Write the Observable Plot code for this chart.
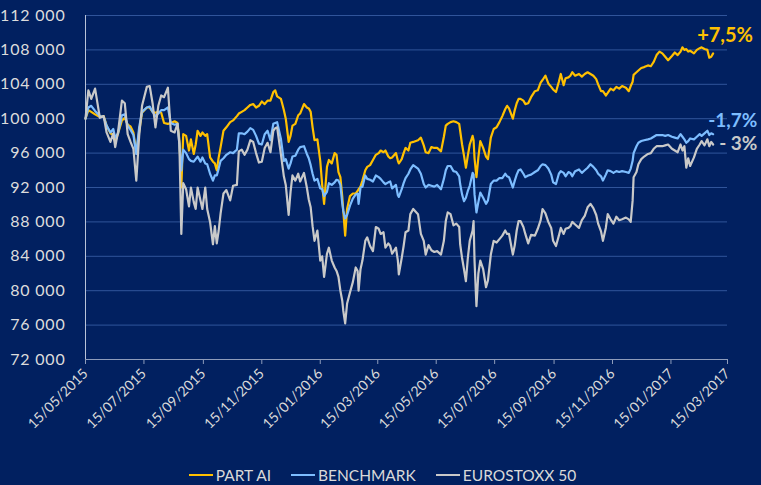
<!DOCTYPE html>
<html>
<head>
<meta charset="utf-8">
<script src="https://cdn.jsdelivr.net/npm/d3@7"></script>
<script src="https://cdn.jsdelivr.net/npm/@observablehq/plot@0.6"></script>
<style>
  html, body { margin: 0; padding: 0; background: #012060; }
  #chart { width: 761px; height: 485px; overflow: hidden; background: #012060; }
  #chart svg g[aria-label="y-axis tick label"] text { letter-spacing: 0.8px; }
  #legend { display: flex; justify-content: center; align-items: center; height: 20px; margin-top: 10px; padding-left: 4px;
            font-family: Lato, "Open Sans", sans-serif; font-size: 15.5px; color: #d9d9d9; }
  .item { display: flex; align-items: center; margin: 0 10px; }
  .sw { width: 24px; height: 2.5px; margin-right: 3px; }
</style>
</head>
<body>
<div id="chart"></div>
<script>
const seriesNames = ["PART AI", "BENCHMARK", "EUROSTOXX 50"];
const seriesColors = ["#ffc000", "#7dbdff", "#c9c9c9"];
const endLabels = ["+7,5%", "-1,7%", "- 3%"];

const xTickLabels = ["2015-05-15","2015-07-15","2015-09-15","2015-11-15","2016-01-15","2016-03-15",
  "2016-05-15","2016-07-15","2016-09-15","2016-11-15","2017-01-15","2017-03-15"];
const yTicks = [72000, 76000, 80000, 84000, 88000, 92000, 96000, 100000, 104000, 108000, 112000];

const dates = [
"2015-05-15","2015-05-18","2015-05-21","2015-05-25","2015-05-30","2015-06-03","2015-06-06","2015-06-10","2015-06-13","2015-06-15",
"2015-06-18","2015-06-22","2015-06-25","2015-06-28","2015-07-01","2015-07-04","2015-07-07","2015-07-10","2015-07-13","2015-07-18",
"2015-07-21","2015-07-24","2015-07-27","2015-07-30","2015-08-02","2015-08-05","2015-08-09","2015-08-12","2015-08-16","2015-08-19",
"2015-08-21","2015-08-23","2015-08-25","2015-08-28","2015-08-31","2015-09-02","2015-09-05","2015-09-07","2015-09-09","2015-09-12",
"2015-09-14","2015-09-17","2015-09-19","2015-09-22","2015-09-25","2015-09-27","2015-09-29","2015-10-01","2015-10-03","2015-10-06",
"2015-10-09","2015-10-13","2015-10-16","2015-10-20","2015-10-22","2015-10-25","2015-10-28","2015-10-31","2015-11-03","2015-11-06",
"2015-11-09","2015-11-12","2015-11-15","2015-11-18","2015-11-21","2015-11-24","2015-11-27","2015-11-29","2015-12-01","2015-12-05",
"2015-12-08","2015-12-10","2015-12-13","2015-12-15","2015-12-17","2015-12-20","2015-12-23","2015-12-25","2015-12-29","2016-01-01",
"2016-01-03","2016-01-05","2016-01-07","2016-01-09","2016-01-12","2016-01-15","2016-01-17","2016-01-19","2016-01-22","2016-01-24",
"2016-01-27","2016-01-30","2016-02-01","2016-02-03","2016-02-05","2016-02-07","2016-02-08","2016-02-10","2016-02-12","2016-02-15",
"2016-02-18","2016-02-21","2016-02-23","2016-02-24","2016-02-26","2016-02-28","2016-03-02","2016-03-04","2016-03-07","2016-03-10",
"2016-03-13","2016-03-16","2016-03-18","2016-03-21","2016-03-23","2016-03-26","2016-03-28","2016-03-30","2016-04-03","2016-04-05",
"2016-04-06","2016-04-09","2016-04-11","2016-04-13","2016-04-16","2016-04-18","2016-04-21","2016-04-26","2016-04-29","2016-05-02",
"2016-05-04","2016-05-07","2016-05-10","2016-05-13","2016-05-16","2016-05-20","2016-05-23","2016-05-25","2016-05-27","2016-05-30",
"2016-06-02","2016-06-05","2016-06-08","2016-06-09","2016-06-11","2016-06-13","2016-06-15","2016-06-17","2016-06-19","2016-06-22",
"2016-06-23","2016-06-24","2016-06-26","2016-06-28","2016-06-30","2016-07-03","2016-07-06","2016-07-08","2016-07-11","2016-07-14",
"2016-07-17","2016-07-20","2016-07-23","2016-07-26","2016-07-28","2016-07-30","2016-08-03","2016-08-05","2016-08-07","2016-08-09",
"2016-08-11","2016-08-14","2016-08-16","2016-08-19","2016-08-22","2016-08-26","2016-08-29","2016-09-01","2016-09-03","2016-09-06",
"2016-09-09","2016-09-12","2016-09-14","2016-09-17","2016-09-20","2016-09-22","2016-09-25","2016-09-27","2016-09-30","2016-10-02",
"2016-10-04","2016-10-07","2016-10-11","2016-10-14","2016-10-17","2016-10-20","2016-10-23","2016-10-26","2016-10-29","2016-10-31",
"2016-11-03","2016-11-05","2016-11-08","2016-11-10","2016-11-13","2016-11-16","2016-11-19","2016-11-22","2016-11-25","2016-11-29",
"2016-12-02","2016-12-04","2016-12-06","2016-12-07","2016-12-10","2016-12-12","2016-12-15","2016-12-18","2016-12-22","2016-12-25",
"2016-12-28","2016-12-31","2017-01-03","2017-01-06","2017-01-09","2017-01-12","2017-01-16","2017-01-19","2017-01-22","2017-01-25",
"2017-01-27","2017-01-29","2017-01-31","2017-02-02","2017-02-04","2017-02-08","2017-02-11","2017-02-14","2017-02-16","2017-02-19",
"2017-02-22","2017-02-24","2017-02-26","2017-02-28"];

const partAI = [
100000,101000,100800,100500,100200,100300,99200,98300,98100,97300,
98300,99800,100100,99300,99100,98400,96000,98500,100700,101300,
101300,100800,100700,100800,100700,99500,99400,99500,99700,99500,
97500,92000,98200,98000,96300,97600,95900,97000,98600,98000,
98400,98000,98200,95500,95000,94800,94000,95500,96700,98600,
99000,99600,99800,100300,100600,100800,101000,101300,101600,101700,
101300,101500,102000,101700,102100,102100,103100,103300,102600,102300,
101000,100000,97300,98000,99200,99400,100400,100600,101700,101300,
101200,100800,99000,97500,97600,95100,92300,90100,94400,95200,
94800,96000,95800,93800,93200,90900,89300,86400,89500,91000,
91300,91300,91600,91800,92100,92800,94000,94400,94600,95200,
95800,96000,96300,96100,96300,95600,95400,95500,96000,95100,
94800,95300,96000,96600,96300,97200,97300,97500,97800,96900,
96100,96000,96700,96600,96600,96200,97900,99200,99400,99600,
99700,99600,99400,98600,97000,95700,94300,95700,97000,98000,
97500,95400,93200,95500,97400,96600,95600,95300,97800,98800,
99000,99600,100300,101100,101500,101200,100000,101000,101800,102300,
102300,102100,101700,101800,102500,103200,103300,104200,104500,105000,
104100,103700,103400,103100,104300,105200,103900,104700,104800,105000,
105400,105000,105200,104900,105200,105400,105200,105000,104600,104000,
103200,103200,102700,103000,103500,103300,103700,103500,103800,103600,
103200,103800,104300,105100,105400,105600,105900,106000,106200,106100,
106600,107400,107800,107600,107200,106800,107300,107700,107400,107800,
108300,108000,108100,107800,107900,107600,108000,108200,108300,108100,
108000,107100,107200,107600];

const benchmark = [
100000,101300,101500,100900,100300,100200,99200,98400,98800,97800,
98300,100400,100500,99200,98700,98100,95900,99000,100800,101300,
101400,100800,100300,100600,101000,101000,101300,99500,99300,99400,
97000,94000,96400,96000,95300,95100,95000,95300,95600,95000,
95500,94800,94700,93600,92800,93400,93400,94200,95100,95400,
95800,96100,96000,96400,98300,98300,98200,98500,98900,98700,
98000,97100,97000,98200,98600,97500,99400,99500,99600,97600,
95100,95300,94200,94800,95600,95700,96400,96700,96800,95900,
95400,94600,93600,92800,93000,91900,91800,91000,91500,92500,
92300,92600,92900,92800,92300,90100,89300,88400,88800,89900,
90700,91200,91300,90100,92000,92100,93400,93000,92900,92700,
93400,93200,93000,92600,92400,92600,92700,91900,92300,91100,
90900,91800,92500,93100,93600,94100,94600,94200,93600,92400,
92000,92300,92200,92100,92300,91800,93000,94000,94500,94500,
93900,93800,93300,92400,91200,90400,90800,91600,92200,93700,
93500,91200,89100,90300,91400,90800,90100,90500,92400,92800,
92800,93100,93100,93600,93300,93200,92000,92800,93500,94000,
94100,93600,93200,93400,93500,93800,94000,94500,94700,94600,
94200,93500,92600,92400,93600,93900,93700,93300,93800,93700,
93300,93900,94100,93700,94000,94300,94700,94400,94000,93600,
93300,92800,93500,94000,93900,93700,93900,93800,93900,93800,
93700,94200,95100,96000,96800,97200,97400,97500,97600,97700,
97900,98100,98100,98100,98000,98100,97900,97800,97700,98200,
97900,97600,97200,97400,97700,97600,97900,98200,98000,98300,
98600,98100,98300,98200];

const eurostoxx = [
100000,103300,102300,103500,100100,100300,98400,97300,98300,96700,
98500,102100,101800,98200,97300,96500,92800,98000,101500,103700,
103800,101800,99000,101500,102700,102500,103600,98600,98400,99400,
97000,86600,92500,91800,89800,92000,90300,89500,92000,90500,
89500,92000,89500,88000,85400,87500,85500,87000,89000,91300,
91700,90500,92200,92300,96200,96400,95800,96400,97500,97300,
96000,94900,95000,96600,97200,96100,98600,98900,99000,95800,
93300,92300,88800,91500,93400,92800,93600,92700,93700,92000,
90600,89700,87500,85800,87000,83500,84000,81600,84300,85000,
83500,82700,82300,81600,80000,78800,77700,76200,78500,79800,
81000,82700,82300,80000,82500,83500,85800,86200,85200,84600,
87400,87200,86600,86800,85000,85500,85200,84300,85000,83500,
81900,83800,85200,86800,87000,88900,89500,88900,86600,85800,
84200,85300,84700,84500,84600,84200,85800,88100,89100,88900,
87600,87800,87400,85400,83800,82500,81100,83800,85800,87000,
88100,83500,78200,82000,83500,82500,80400,81200,84200,85800,
85600,86000,86400,87000,86600,86600,84200,85300,87000,88100,
88100,87400,86600,85500,86500,86400,87200,88200,89500,89000,
88000,87300,85800,85200,86400,87300,86600,87200,87300,87500,
88000,87700,87300,88200,88700,89700,90100,89600,88800,87800,
86900,85800,87300,88900,88300,87800,88600,88200,88300,88500,
88300,88000,90500,93200,93800,94700,95300,95600,95900,96000,
96500,96800,96800,96800,96900,97000,96500,96300,96100,97000,
96300,96800,94300,95400,94500,95500,96500,97000,97400,96900,
97600,96800,97300,97000];

const parse = d3.utcParse("%Y-%m-%d");
const seriesValues = [partAI, benchmark, eurostoxx];
const n = Math.min(dates.length, partAI.length, benchmark.length, eurostoxx.length);
const tables = seriesValues.map((vals, k) =>
  d3.range(n).map(i => ({date: parse(dates[i]), value: vals[i], series: seriesNames[k]})));
const lastPoints = tables.map((t, k) => ({...t[t.length - 1], label: endLabels[k], color: seriesColors[k]}));
const xTicks = xTickLabels.map(parse);
const fmtY = d => d3.format(",")(d).replace(/,/g, " ");
const fmtX = d3.utcFormat("%d/%m/%Y");
const labelStyle = [{dx: -16, dy: -18, size: 20}, {dx: -5, dy: -13.5, size: 19}, {dx: 6, dy: -0.5, size: 19}];

const chart = Plot.plot({
  width: 761,
  height: 455,
  marginLeft: 85,
  marginRight: 34,
  marginTop: 15,
  marginBottom: 96,
  style: {background: "transparent", color: "#d9d9d9", fontFamily: "Lato, 'Open Sans', sans-serif", fontSize: "14px"},
  x: {type: "utc", domain: [xTicks[0], xTicks[xTicks.length - 1]]},
  y: {domain: [yTicks[0], yTicks[yTicks.length - 1]]},
  marks: [
    Plot.gridY(yTicks.slice(1), {stroke: "#30549a", strokeOpacity: 1, strokeWidth: 1}),
    Plot.axisY(yTicks, {tickSize: 0, tickPadding: 20, tickFormat: fmtY, label: null, fontSize: 16, fill: "#dcdcdc"}),
    Plot.axisX(xTicks, {tickSize: 5, tickFormat: fmtX, tickRotate: -45, label: null, stroke: "#8e9cbb", strokeOpacity: 1, fontSize: 14, fill: "#d9d9d9"}),
    Plot.ruleY([yTicks[0]], {stroke: "#8e9cbb", strokeWidth: 1.2}),
    Plot.ruleX([xTicks[0]], {stroke: "#b8c2d8", strokeWidth: 1}),
    ...tables.map((t, k) => Plot.line(t, {x: "date", y: "value", stroke: seriesColors[k], strokeWidth: 2.2, strokeLinejoin: "round"})),
    ...lastPoints.map((p, k) => Plot.text([p], {x: "date", y: "value", text: "label", fill: p.color, textAnchor: "start",
      fontWeight: "bold", fontSize: labelStyle[k].size, dx: labelStyle[k].dx, dy: labelStyle[k].dy}))
  ]
});

const root = document.getElementById("chart");
root.appendChild(chart);
const legend = document.createElement("div");
legend.id = "legend";
seriesNames.forEach((name, k) => {
  const item = document.createElement("div");
  item.className = "item";
  const sw = document.createElement("span");
  sw.className = "sw";
  sw.style.background = seriesColors[k];
  const tx = document.createElement("span");
  tx.textContent = name;
  item.appendChild(sw);
  item.appendChild(tx);
  legend.appendChild(item);
});
root.appendChild(legend);
</script>
</body>
</html>
